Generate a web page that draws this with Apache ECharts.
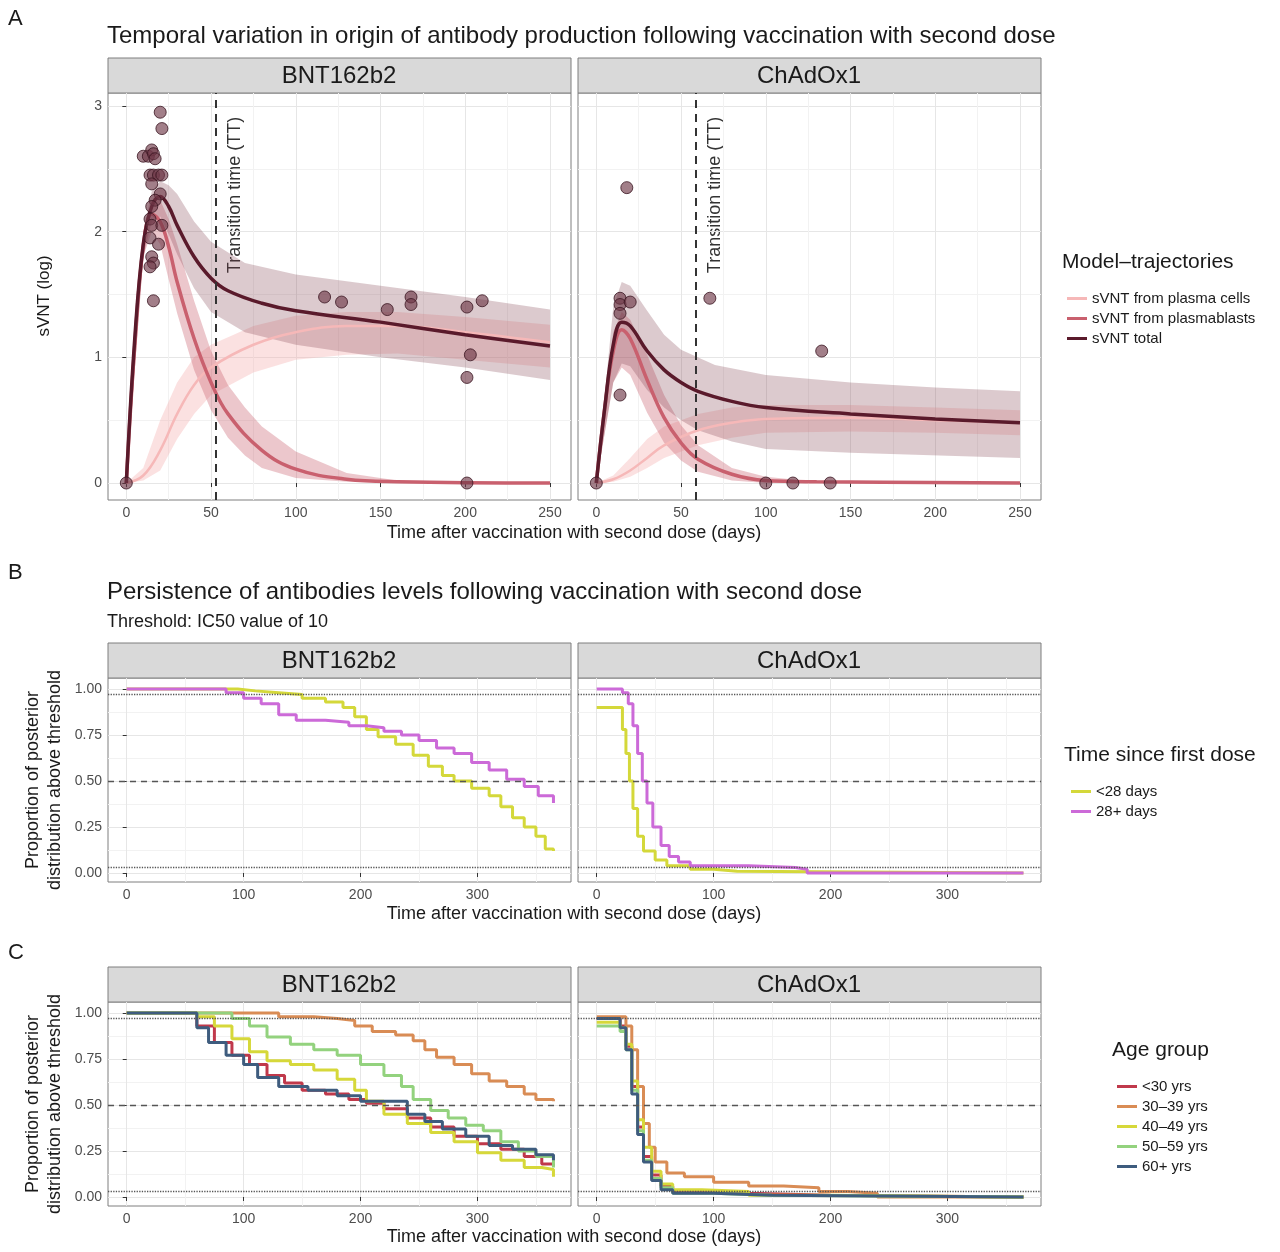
<!DOCTYPE html>
<html><head><meta charset="utf-8">
<script src="https://cdn.jsdelivr.net/npm/echarts@6/dist/echarts.min.js"></script>
<style>html,body{margin:0;padding:0;background:#fff}#main{width:1280px;height:1252px}</style>
</head><body><div id="main"></div>
<script>
// ---- panel A data: model trajectories [day, sVNT(log)] ----
var bntTotal = [[0,0],[5,1.15],[10,1.9],[15,2.2],[20,2.28],[25,2.2],[30,2.05],[40,1.8],[50,1.63],[60,1.53],[80,1.43],[100,1.37],[150,1.28],[200,1.18],[250,1.09]];
var bntTotalUp = [[0,0],[10,2.0],[15,2.32],[20,2.4],[25,2.37],[30,2.3],[40,2.08],[50,1.92],[70,1.75],[100,1.66],[150,1.57],[200,1.48],[250,1.38]];
var bntTotalLo = [[0,0],[10,1.8],[15,2.08],[20,2.12],[25,1.98],[30,1.82],[40,1.55],[50,1.36],[70,1.2],[100,1.1],[150,1.0],[200,0.92],[250,0.82]];
var bntPB = [[0,0],[5,1.1],[10,1.88],[15,2.14],[20,2.08],[25,1.88],[30,1.6],[40,1.15],[50,0.8],[60,0.55],[80,0.26],[100,0.11],[130,0.03],[160,0.01],[250,0]];
var bntPBUp = [[0,0],[10,1.95],[15,2.25],[20,2.25],[25,2.1],[30,1.9],[40,1.45],[50,1.05],[60,0.78],[70,0.6],[80,0.45],[100,0.25],[130,0.08],[160,0.02],[250,0]];
var bntPBLo = [[0,0],[10,1.8],[15,2.0],[20,1.9],[25,1.62],[30,1.35],[40,0.9],[50,0.58],[60,0.36],[70,0.22],[80,0.12],[100,0.04],[130,0.01],[250,0]];
var bntPC = [[0,0],[10,0.06],[20,0.26],[30,0.55],[40,0.78],[50,0.92],[75,1.1],[100,1.2],[130,1.25],[160,1.25],[200,1.2],[250,1.12]];
var bntPCUp = [[0,0],[10,0.12],[20,0.5],[30,0.8],[40,1.0],[50,1.1],[75,1.25],[100,1.33],[130,1.36],[160,1.36],[200,1.32],[250,1.26]];
var bntPCLo = [[0,0],[10,0.02],[20,0.1],[30,0.35],[40,0.55],[50,0.7],[75,0.88],[100,0.98],[130,1.02],[160,1.03],[200,0.98],[250,0.92]];
var bntObs = [[0,0],[10,2.6],[13,2.6],[15,2.65],[16,2.62],[17,2.58],[20,2.95],[21,2.82],[14,2.45],[16,2.45],[19,2.45],[21,2.45],[15,2.38],[20,2.3],[17,2.25],[15,2.2],[14,2.1],[15,2.05],[21,2.05],[14,1.95],[19,1.9],[15,1.8],[16,1.75],[14,1.72],[16,1.45],[117,1.48],[127,1.44],[154,1.38],[168,1.48],[168,1.42],[201,1.4],[210,1.45],[203,1.02],[201,0.84],[201,0]];
var chaTotal = [[0,0],[5,0.6],[10,1.1],[15,1.28],[20,1.25],[30,1.05],[40,0.9],[50,0.8],[60,0.73],[80,0.65],[100,0.6],[150,0.55],[200,0.51],[250,0.48]];
var chaTotalUp = [[0,0],[10,1.4],[15,1.6],[20,1.57],[30,1.37],[40,1.18],[50,1.06],[70,0.94],[100,0.86],[150,0.8],[200,0.76],[250,0.73]];
var chaTotalLo = [[0,0],[10,0.8],[15,0.95],[20,0.93],[30,0.74],[40,0.6],[50,0.5],[60,0.42],[80,0.33],[100,0.27],[150,0.24],[250,0.2]];
var chaPB = [[0,0],[5,0.6],[10,1.05],[15,1.22],[20,1.15],[30,0.82],[40,0.52],[50,0.32],[60,0.19],[80,0.07],[100,0.02],[130,0.01],[250,0]];
var chaPBUp = [[0,0],[10,1.2],[15,1.36],[20,1.3],[30,1.02],[40,0.7],[50,0.46],[60,0.3],[80,0.12],[100,0.05],[130,0.01],[250,0]];
var chaPBLo = [[0,0],[10,0.8],[15,0.92],[20,0.86],[30,0.56],[40,0.32],[50,0.18],[60,0.09],[80,0.02],[100,0],[250,0]];
var chaPC = [[0,0],[10,0.03],[20,0.1],[30,0.2],[40,0.3],[60,0.42],[80,0.48],[100,0.51],[150,0.52],[200,0.5],[250,0.48]];
var chaPCUp = [[0,0],[10,0.06],[20,0.2],[30,0.35],[40,0.45],[60,0.55],[80,0.6],[100,0.62],[150,0.62],[200,0.6],[250,0.58]];
var chaPCLo = [[0,0],[10,0.01],[20,0.05],[30,0.12],[40,0.2],[60,0.3],[80,0.36],[100,0.4],[150,0.41],[200,0.4],[250,0.38]];
var chaObs = [[0,0],[18,2.35],[14,1.47],[14,1.42],[20,1.44],[14,1.35],[14,0.7],[67,1.47],[133,1.05],[100,0],[116,0],[138,0]];
var ttBnt = 52.5, ttCha = 58.5;

// ---- panel B data: proportion above threshold by time since first dose ----
var bLt28Bnt = [[0,1],[80,1],[95,0.99],[110,0.98],[130,0.97],[150,0.95],[170,0.93],[185,0.9],[195,0.85],[205,0.78],[215,0.74],[230,0.7],[245,0.64],[258,0.58],[270,0.53],[280,0.5],[295,0.46],[310,0.42],[320,0.36],[330,0.3],[340,0.25],[350,0.2],[358,0.13],[365,0.12]];
var b28pBnt = [[0,1],[70,1],[85,0.98],[100,0.95],[115,0.92],[130,0.86],[145,0.83],[170,0.82],[190,0.8],[205,0.79],[220,0.77],[235,0.75],[250,0.72],[265,0.68],[280,0.65],[295,0.6],[310,0.56],[325,0.51],[340,0.47],[352,0.42],[365,0.38]];
var bLt28Cha = [[0,0.9],[18,0.9],[22,0.78],[25,0.65],[28,0.5],[31,0.35],[35,0.2],[40,0.12],[50,0.07],[60,0.04],[80,0.02],[100,0.01],[120,0],[365,0]];
var b28pCha = [[0,1],[18,1],[22,0.98],[27,0.92],[31,0.8],[35,0.65],[39,0.5],[43,0.38],[48,0.25],[55,0.15],[62,0.09],[70,0.06],[80,0.04],[100,0.04],[130,0.03],[170,0.02],[180,0],[365,0]];

// ---- panel C data: proportion above threshold by age group ----
var cBnt = {
  '<30 yrs': [[0,1],[50,1],[60,0.93],[75,0.84],[90,0.77],[105,0.72],[120,0.66],[135,0.62],[150,0.58],[170,0.56],[190,0.53],[205,0.51],[220,0.48],[240,0.43],[260,0.38],[280,0.33],[300,0.29],[320,0.26],[340,0.22],[355,0.18],[365,0.17]],
  '30\u201339 yrs': [[0,1],[100,1],[130,0.98],[160,0.97],[180,0.96],[195,0.93],[210,0.9],[230,0.88],[245,0.85],[255,0.8],[265,0.76],[280,0.72],[295,0.67],[310,0.63],[325,0.6],[340,0.56],[350,0.53],[365,0.52]],
  '40\u201349 yrs': [[0,1],[60,0.98],[75,0.93],[90,0.86],[105,0.79],[120,0.74],[140,0.72],[160,0.69],[180,0.64],[195,0.58],[205,0.52],[220,0.45],[240,0.4],[260,0.35],[280,0.3],[300,0.24],[320,0.2],[340,0.16],[355,0.15],[365,0.11]],
  '50\u201359 yrs': [[0,1],[70,1],[90,0.97],[105,0.93],[120,0.87],[140,0.83],[160,0.8],[180,0.77],[200,0.72],[220,0.66],[235,0.6],[245,0.53],[260,0.47],[275,0.43],[290,0.39],[305,0.36],[320,0.3],[335,0.25],[350,0.22],[365,0.16]],
  '60+ yrs': [[0,1],[50,1],[60,0.92],[70,0.84],[85,0.77],[100,0.72],[112,0.65],[130,0.6],[155,0.58],[180,0.55],[200,0.52],[225,0.52],[240,0.45],[255,0.41],[270,0.37],[290,0.33],[310,0.28],[330,0.26],[350,0.23],[365,0.2]]
};
var cCha = {
  '<30 yrs': [[0,0.97],[15,0.97],[20,0.93],[25,0.82],[30,0.6],[35,0.38],[40,0.22],[47,0.12],[55,0.06],[65,0.03],[90,0.02],[130,0.01],[200,0],[365,0]],
  '30\u201339 yrs': [[0,0.98],[20,0.98],[25,0.93],[30,0.8],[35,0.6],[40,0.4],[45,0.27],[50,0.19],[60,0.13],[75,0.11],[100,0.08],[130,0.06],[160,0.05],[190,0.03],[215,0.02],[240,0],[365,0]],
  '40\u201349 yrs': [[0,0.95],[15,0.95],[20,0.92],[25,0.83],[30,0.63],[35,0.42],[40,0.27],[47,0.14],[55,0.07],[65,0.04],[90,0.03],[130,0.01],[200,0],[365,0]],
  '50\u201359 yrs': [[0,0.93],[15,0.93],[20,0.9],[25,0.8],[30,0.58],[35,0.36],[40,0.2],[47,0.1],[55,0.05],[65,0.02],[100,0.01],[150,0],[365,0]],
  '60+ yrs': [[0,0.97],[15,0.97],[20,0.92],[25,0.8],[30,0.56],[35,0.34],[40,0.19],[47,0.09],[55,0.04],[65,0.02],[100,0.01],[150,0],[365,0]]
};
var ageColors = {'<30 yrs':'#c0394b','30\u201339 yrs':'#d98c55','40\u201349 yrs':'#d6d83a','50\u201359 yrs':'#93d27e','60+ yrs':'#3e5c7e'};
var xTicksA = [0,50,100,150,200,250];
var xTicksBC = [0,100,200,300];

var font = 'Liberation Sans, Arial, sans-serif';
var myChart = echarts.init(document.getElementById('main'));

var panels = [
  {l:108, t:93, h:407, xmin:-10.8, xmax:262.4, ymin:-0.135, ymax:3.103, xt:xTicksA, yt:[0,1,2,3], fmt:function(v){return String(v);}},
  {l:578, t:93, h:407, xmin:-10.8, xmax:262.4, ymin:-0.135, ymax:3.103, xt:xTicksA, yt:[0,1,2,3], fmt:function(v){return String(v);}},
  {l:108, t:678, h:204, xmin:-16, xmax:380, ymin:-0.049, ymax:1.06, xt:xTicksBC, yt:[0,0.25,0.5,0.75,1], fmt:function(v){return v.toFixed(2);}},
  {l:578, t:678, h:204, xmin:-16, xmax:380, ymin:-0.049, ymax:1.06, xt:xTicksBC, yt:[0,0.25,0.5,0.75,1], fmt:function(v){return v.toFixed(2);}},
  {l:108, t:1002, h:204, xmin:-16, xmax:380, ymin:-0.049, ymax:1.06, xt:xTicksBC, yt:[0,0.25,0.5,0.75,1], fmt:function(v){return v.toFixed(2);}},
  {l:578, t:1002, h:204, xmin:-16, xmax:380, ymin:-0.049, ymax:1.06, xt:xTicksBC, yt:[0,0.25,0.5,0.75,1], fmt:function(v){return v.toFixed(2);}}
];
function minorOf(t){var r=[];for(var i=0;i<t.length-1;i++)r.push((t[i]+t[i+1])/2);r.push(t[t.length-1]+(t[1]-t[0])/2);return r;}

var grid=[],xAxis=[],yAxis=[],series=[],graphic=[];
panels.forEach(function(p,i){
  grid.push({left:p.l, top:p.t, width:463, height:p.h, show:true, borderColor:'#7f7f7f', borderWidth:1, backgroundColor:'#fff'});
  // minor grid axes
  xAxis.push({type:'value', gridIndex:i, position:'bottom', min:p.xmin, max:p.xmax, axisLine:{show:false}, axisLabel:{show:false},
    axisTick:{show:false, customValues:minorOf(p.xt)}, splitLine:{show:true, lineStyle:{color:'#f2f2f2', width:1}}});
  yAxis.push({type:'value', gridIndex:i, position:'left', min:p.ymin, max:p.ymax, axisLine:{show:false}, axisLabel:{show:false},
    axisTick:{show:false, customValues:minorOf(p.yt).slice(0,-1)}, splitLine:{show:true, lineStyle:{color:'#f2f2f2', width:1}}});
  // major axes
  xAxis.push({type:'value', gridIndex:i, position:'bottom', min:p.xmin, max:p.xmax, axisLine:{show:false},
    axisTick:{show:true, customValues:p.xt, length:4, lineStyle:{color:'#333'}},
    axisLabel:{customValues:p.xt, color:'#4d4d4d', fontSize:14, fontFamily:font, margin:6},
    splitLine:{show:true, lineStyle:{color:'#e6e6e6', width:1}}});
  yAxis.push({type:'value', gridIndex:i, position:'left', min:p.ymin, max:p.ymax, axisLine:{show:false},
    axisTick:{show:i%2===0, customValues:p.yt, length:4, lineStyle:{color:'#333'}},
    axisLabel:{show:i%2===0, customValues:p.yt, color:'#4d4d4d', fontSize:14, fontFamily:font, margin:6, formatter:p.fmt},
    splitLine:{show:true, lineStyle:{color:'#e6e6e6', width:1}}});
  graphic.push({type:'rect', shape:{x:p.l, y:p.t-35, width:463, height:35}, style:{fill:'#d9d9d9', stroke:'#7f7f7f', lineWidth:1}});
  graphic.push({type:'text', x:p.l+231, y:p.t-17, style:{text:i%2===0?'BNT162b2':'ChAdOx1', fill:'#1a1a1a', font:'24px '+font, textAlign:'center', textVerticalAlign:'middle'}});
});
var AX = function(i){return {xAxisIndex:2*i+1, yAxisIndex:2*i+1};};

function band(i, up, lo, color){
  return Object.assign({type:'custom', name:'band', silent:true, clip:true, z:1, data:[0],
    renderItem:function(params, api){
      var pts = up.map(function(d){return api.coord(d);}).concat(lo.slice().reverse().map(function(d){return api.coord(d);}));
      return {type:'polygon', shape:{points:pts}, style:{fill:color}};
    }}, AX(i));
}
function line(i, name, data, color, w, opts){
  return Object.assign({type:'line', name:name, data:data, showSymbol:false, symbol:'none', z:3,
    lineStyle:{color:color, width:w}, itemStyle:{color:color}}, AX(i), opts||{});
}
function hlines(i){
  return Object.assign({type:'line', name:'ref', data:[], markLine:{silent:true, symbol:'none', label:{show:false},
    data:[{yAxis:0.975, lineStyle:{type:'dotted', color:'#555', width:1.3}},
          {yAxis:0.5, lineStyle:{type:[6,5], color:'#555', width:1.3}},
          {yAxis:0.025, lineStyle:{type:'dotted', color:'#555', width:1.3}}]}}, AX(i));
}

// Panel A
[[0,bntTotal,bntTotalUp,bntTotalLo,bntPB,bntPBUp,bntPBLo,bntPC,bntPCUp,bntPCLo,bntObs,ttBnt],
 [1,chaTotal,chaTotalUp,chaTotalLo,chaPB,chaPBUp,chaPBLo,chaPC,chaPCUp,chaPCLo,chaObs,ttCha]].forEach(function(a){
  var i=a[0];
  series.push(band(i,a[8],a[9],'rgba(244,170,170,0.35)'));
  series.push(band(i,a[5],a[6],'rgba(200,95,110,0.35)'));
  series.push(band(i,a[2],a[3],'rgba(125,60,75,0.27)'));
  series.push(line(i,'sVNT from plasma cells',a[7],'#f6b8b8',2.5,{smooth:0.4}));
  series.push(line(i,'sVNT from plasmablasts',a[4],'#c9606e',3.5,{smooth:0.4}));
  series.push(line(i,'sVNT total',a[1],'#5a1a2b',3.5,{smooth:0.4}));
  series.push(Object.assign({type:'scatter', name:'obs', data:a[10], symbolSize:12, z:5,
    itemStyle:{color:'rgba(110,55,70,0.8)', borderColor:'#3a1520', borderWidth:1},
    markLine:{silent:true, symbol:'none', label:{show:false}, data:[{xAxis:a[11]}], lineStyle:{type:[8,6], color:'#333', width:2}}}, AX(i)));
});
// Panel B
series.push(hlines(2)); series.push(hlines(3));
series.push(line(2,'<28 days',bLt28Bnt,'#d4d83a',3,{step:'end'}));
series.push(line(2,'28+ days',b28pBnt,'#cc6ad8',3,{step:'end'}));
series.push(line(3,'<28 days',bLt28Cha,'#d4d83a',3,{step:'end'}));
series.push(line(3,'28+ days',b28pCha,'#cc6ad8',3,{step:'end'}));
// Panel C
series.push(hlines(4)); series.push(hlines(5));
Object.keys(cBnt).forEach(function(k){
  series.push(line(4,k,cBnt[k],ageColors[k],3,{step:'end'}));
  series.push(line(5,k,cCha[k],ageColors[k],3,{step:'end'}));
});

var legTxt = {color:'#1a1a1a', fontSize:15, fontFamily:font};
var legend = [
  {data:['sVNT from plasma cells','sVNT from plasmablasts','sVNT total'], orient:'vertical', left:1062, top:286, itemWidth:20, itemHeight:3, itemGap:5, icon:'rect', textStyle:legTxt, selectedMode:false},
  {data:['<28 days','28+ days'], orient:'vertical', left:1066, top:779, itemWidth:20, itemHeight:3, itemGap:5, icon:'rect', textStyle:legTxt, selectedMode:false},
  {data:Object.keys(cBnt), orient:'vertical', left:1112, top:1074, itemWidth:20, itemHeight:3, itemGap:5, icon:'rect', textStyle:legTxt, selectedMode:false}
];

function txt(x,y,s,size,opts){return Object.assign({type:'text', x:x, y:y, style:Object.assign({text:s, fill:'#1a1a1a', font:size+'px '+font}, opts||{})});}
graphic.push(txt(8,8,'A',22), txt(8,562,'B',22), txt(8,942,'C',22));
graphic.push(txt(107,24,'Temporal variation in origin of antibody production following vaccination with second dose',24));
graphic.push(txt(107,580,'Persistence of antibodies levels following vaccination with second dose',24));
graphic.push(txt(107,613,'Threshold: IC50 value of 10',18));
[524,905,1228].forEach(function(y){graphic.push(txt(574,y,'Time after vaccination with second dose (days)',18,{textAlign:'center'}));});
graphic.push(Object.assign(txt(44,296,'sVNT (log)',17,{textAlign:'center', textVerticalAlign:'middle'}),{rotation:Math.PI/2}));
[780,1104].forEach(function(y){
  graphic.push(Object.assign(txt(44,y,'Proportion of posterior\ndistribution above threshold',18,{textAlign:'center', textVerticalAlign:'middle', lineHeight:22}),{rotation:Math.PI/2}));
});
graphic.push(Object.assign(txt(235,195,'Transition time (TT)',18,{textAlign:'center', textVerticalAlign:'middle', fill:'#333'}),{rotation:Math.PI/2}));
graphic.push(Object.assign(txt(715,195,'Transition time (TT)',18,{textAlign:'center', textVerticalAlign:'middle', fill:'#333'}),{rotation:Math.PI/2}));
graphic.push(txt(1062,252,'Model\u2013trajectories',21));
graphic.push(txt(1064,745,'Time since first dose',21));
graphic.push(txt(1112,1040,'Age group',21));

myChart.setOption({animation:false, backgroundColor:'#fff', grid:grid, xAxis:xAxis, yAxis:yAxis, series:series, legend:legend, graphic:graphic});
</script></body></html>
